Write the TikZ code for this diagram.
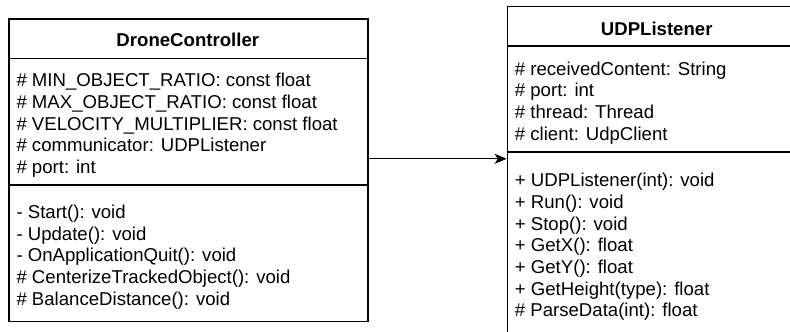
\documentclass[tikz,border=0pt]{standalone}
\usepackage{fontspec}
\setmainfont{Liberation Sans}
\usetikzlibrary{arrows.meta}

\newcommand{\umlfont}{\fontsize{18.6}{21.7}\selectfont}

\tikzset{
  umlbox/.style={draw=black, line width=1.2pt, inner sep=0pt, anchor=north west},
  umlsep/.style={draw=black, line width=1.2pt},
  umltitle/.style={inner sep=0pt, anchor=base, font=\umlfont\bfseries},
  umlrow/.style={inner sep=0pt, anchor=base west, font=\umlfont},
  assoc/.style={draw=black, line width=1.2pt, -{Stealth[length=12pt, width=10pt, inset=3pt]}}
}

\begin{document}
\begin{tikzpicture}[x=1pt, y=-1pt]
\useasboundingbox (0,0) rectangle (790,332);
\clip (0,0) rectangle (790,332);

% DroneController class
\node[umlbox, minimum width=359pt, minimum height=302.7pt] (dc) at (8.3,18.3) {};
\draw[umlsep] (8.3,58.3) -- (367.3,58.3);
\draw[umlsep] (8.3,185) -- (367.3,185);
\node[umltitle] (dctitle) at (187.8,46.7) {DroneController};
\foreach \t [count=\i] in {
  {\# MIN\_OBJECT\_RATIO: const float},
  {\# MAX\_OBJECT\_RATIO: const float},
  {\# VELOCITY\_MULTIPLIER: const float},
  {\# communicator: UDPListener},
  {\# port: int}}
  \node[umlrow] (dcattr\i) at (16.3,{86.7+21.7*(\i-1)}) {\t};
\foreach \t [count=\i] in {
  {- Start(): void},
  {- Update(): void},
  {- OnApplicationQuit(): void},
  {\# CenterizeTrackedObject(): void},
  {\# BalanceDistance(): void}}
  \node[umlrow] (dcop\i) at (16.3,{218.3+21.7*(\i-1)}) {\t};

% UDPListener class (runs past the right and bottom edges)
\node[umlbox, minimum width=300pt, minimum height=400pt] (udp) at (506.7,6) {};
\draw[umlsep] (506.7,46) -- (810,46);
\draw[umlsep] (506.7,152) -- (810,152);
\node[umltitle] (udptitle) at (656.7,35) {UDPListener};
\foreach \t [count=\i] in {
  {\# receivedContent: String},
  {\# port: int},
  {\# thread: Thread},
  {\# client: UdpClient}}
  \node[umlrow] (udpattr\i) at (514.7,{75+21.7*(\i-1)}) {\t};
\foreach \t [count=\i] in {
  {+ UDPListener(int): void},
  {+ Run(): void},
  {+ Stop(): void},
  {+ GetX(): float},
  {+ GetY(): float},
  {+ GetHeight(type): float},
  {\# ParseData(int): float}}
  \node[umlrow] (udpop\i) at (514.7,{186.7+21.7*(\i-1)}) {\t};

% association DroneController -> UDPListener
\coordinate (assocy) at (0,158.8);
\draw[assoc] (dc.east |- assocy) -- (udp.west |- assocy);
\end{tikzpicture}
\end{document}
